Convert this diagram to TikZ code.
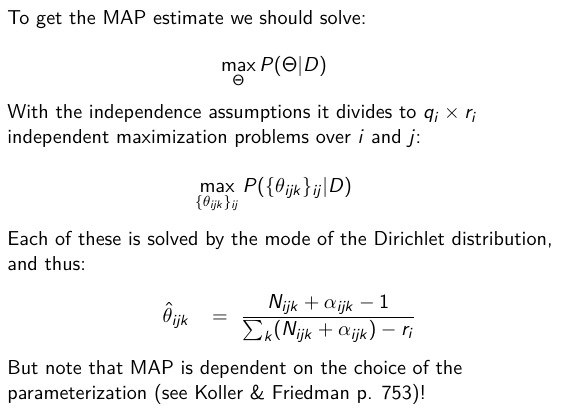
\documentclass[tikz,border=0pt]{standalone}
\usepackage{amsmath}
\usepackage{tikz}
\usetikzlibrary{positioning}

% sans serif math letters, as on the slides
\DeclareSymbolFont{sfitalic}{OT1}{cmss}{m}{sl}
\DeclareSymbolFont{sfupright}{OT1}{cmss}{m}{n}
\SetSymbolFont{operators}{normal}{OT1}{cmss}{m}{n}
\DeclareMathSymbol{P}{\mathalpha}{sfitalic}{`P}
\DeclareMathSymbol{D}{\mathalpha}{sfitalic}{`D}
\DeclareMathSymbol{N}{\mathalpha}{sfitalic}{`N}
\DeclareMathSymbol{i}{\mathalpha}{sfitalic}{`i}
\DeclareMathSymbol{j}{\mathalpha}{sfitalic}{`j}
\DeclareMathSymbol{k}{\mathalpha}{sfitalic}{`k}
\DeclareMathSymbol{q}{\mathalpha}{sfitalic}{`q}
\DeclareMathSymbol{r}{\mathalpha}{sfitalic}{`r}
\DeclareMathSymbol{\Theta}{\mathalpha}{sfupright}{"02}

\begin{document}
\begin{tikzpicture}[
    x=0.5435pt,
    y=-0.5435pt,
    font=\sffamily\fontsize{10.95}{13.6}\selectfont,
    line/.style={
		anchor=base west,
		inner sep=0pt
	},
	formula/.style={
		anchor=base,
		inner sep=0pt
	}
  ]
    % the frame of the slide
  \path [use as bounding box] (0,0) rectangle (584,408);

  \node [line] (intro) at (7,25) {To get the MAP estimate we should solve:};

  \node [formula] (maxall) at (274,72)
 {$\displaystyle\max_{\Theta} P(\Theta|D)$};

  \node [line] (indep1) at (7,119)
 {With the independence assumptions it divides to $q_i \times r_i$};
  \node [line] (indep2) at (7,144)
 {independent maximization problems over $i$ and $j$:};

  \node [formula] (maxij) at (273.5,192)
 {$\displaystyle\max_{\{\theta_{ijk}\}_{ij}} P(\{\theta_{ijk}\}_{ij}|D)$};

  \node [line] (mode1) at (7,245)
 {Each of these is solved by the mode of the Dirichlet distribution,};
  \node [line] (mode2) at (7,270) {and thus:};

    % the estimate, in three columns
  \node [formula, anchor=base east] (thetahat) at (190,322) {$\hat{\theta}_{ijk}$};
  \node [formula] (equals) at (220,322) {$=$};
  \node [formula, anchor=base west] (ratio) at (240,322)
 {$\displaystyle\frac{N_{ijk}+\alpha_{ijk}-1}{\sum_k(N_{ijk}+\alpha_{ijk})-r_i}$};

  \node [line] (note1) at (7,374)
 {But note that MAP is dependent on the choice of the};
  \node [line] (note2) at (7,399)
 {parameterization (see Koller \& Friedman p. 753)!};

\end{tikzpicture}
\end{document}
